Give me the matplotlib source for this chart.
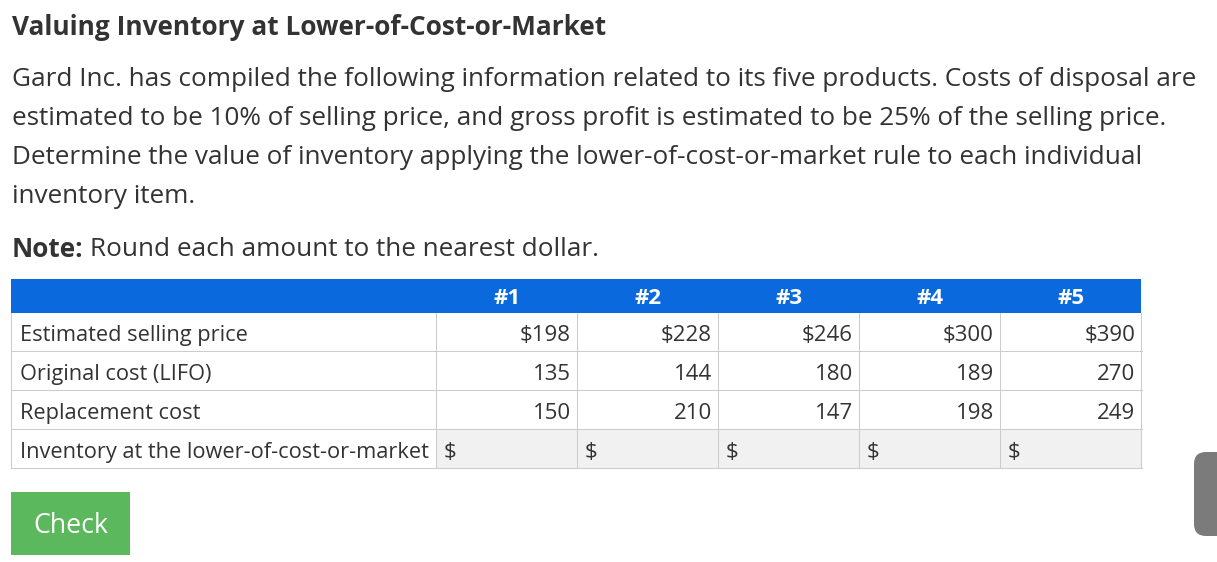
import matplotlib
matplotlib.use('Agg')
import matplotlib.pyplot as plt
from matplotlib.patches import Rectangle, FancyBboxPatch

W, H = 1217, 562

# Text and table data
TITLE = "Valuing Inventory at Lower-of-Cost-or-Market"
PARAGRAPH = [
    "Gard Inc. has compiled the following information related to its five products. Costs of disposal are",
    "estimated to be 10% of selling price, and gross profit is estimated to be 25% of the selling price.",
    "Determine the value of inventory applying the lower-of-cost-or-market rule to each individual",
    "inventory item.",
]
products = ["#1", "#2", "#3", "#4", "#5"]
row_labels = ["Estimated selling price", "Original cost (LIFO)", "Replacement cost",
              "Inventory at the lower-of-cost-or-market"]
selling_price = ["$198", "$228", "$246", "$300", "$390"]
original_cost = ["135", "144", "180", "189", "270"]
replacement_cost = ["150", "210", "147", "198", "249"]

plt.rcParams['font.family'] = ['Open Sans', 'DejaVu Sans']
TEXT = '#333333'
BLUE = '#0a69dc'
GRID = '#cccccc'
BIG = 18.82
SMALL = 16.0
LABEL = 15.65

fig = plt.figure(figsize=(W / 100, H / 100), dpi=100)
ax = fig.add_axes([0, 0, 1, 1])
ax.set_xlim(0, W)
ax.set_ylim(H, 0)
ax.axis('off')

ax.text(12, 27.5, TITLE, fontsize=18.9, fontweight='bold', color=TEXT, va='center')
for i, line in enumerate(PARAGRAPH):
    ax.text(12, 79.5 + i * 39, line, fontsize=BIG, color=TEXT, va='center')
ax.text(12, 249.5, "Note:", fontsize=BIG, fontweight='bold', color=TEXT, va='center')
ax.text(90, 249.5, "Round each amount to the nearest dollar.", fontsize=BIG, color=TEXT, va='center')

# table
col_edges = [11, 436, 577, 718, 859, 1000, 1141]
row_edges = [279, 313, 351, 390, 429, 468]
ax.add_patch(Rectangle((11, 279), 1130, 34, fc=BLUE, ec='none'))
ax.add_patch(Rectangle((436, 429), 705, 39, fc='#f1f1f1', ec='none'))
for y in row_edges[2:]:
    ax.plot([11, 1142], [y - 0.5, y - 0.5], color=GRID, lw=0.75)
for x in col_edges:
    ax.plot([x - 0.5, x - 0.5], [313, 468], color=GRID, lw=0.75)

for i, p in enumerate(products):
    ax.text((col_edges[i + 1] + col_edges[i + 2]) / 2 + 1, 298, p, fontsize=SMALL, fontweight='bold',
            color='white', ha='center', va='center')

rows = [selling_price, original_cost, replacement_cost]
for r, label in enumerate(row_labels):
    cy = 335.5 + r * 39
    ax.text(20, cy, label, fontsize=LABEL, color=TEXT, va='center')
    for c in range(5):
        if r < 3:
            ax.text(col_edges[c + 2] - 6, cy, rows[r][c], fontsize=SMALL, color=TEXT, ha='right', va='center')
        else:
            ax.text(col_edges[c + 1] + 8, cy, "\\$", fontsize=SMALL, color=TEXT, va='center')

# button
ax.add_patch(Rectangle((11, 492), 119, 63, fc='#5cb85c', ec='none'))
ax.text(70.5, 526, "Check", fontsize=19.3, color='white', ha='center', va='center')

# scrollbar thumb
ax.add_patch(FancyBboxPatch((1194, 452), 40, 84, boxstyle='round,pad=0,rounding_size=12',
                            fc='#7b7b7b', ec='none', lw=0))

fig.savefig('out.png', dpi=100)
